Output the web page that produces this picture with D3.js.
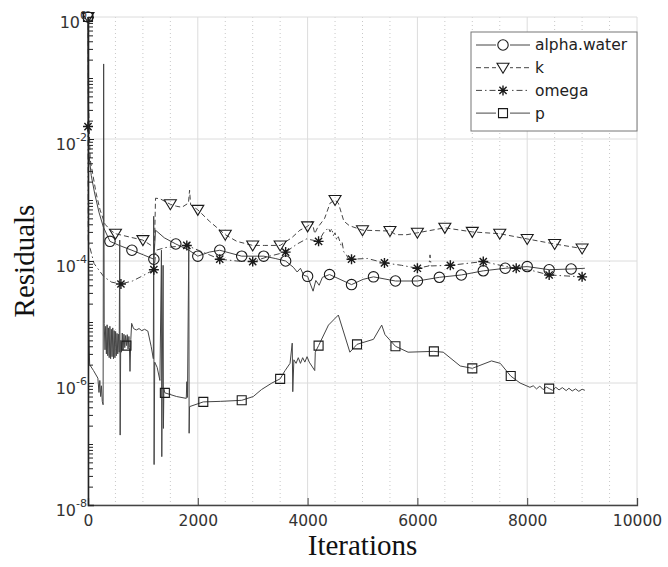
<!DOCTYPE html>
<html>
<head>
<meta charset="utf-8">
<script src="https://cdn.jsdelivr.net/npm/d3@7"></script>
<style>
  body { margin: 0; background: #fff; }
</style>
</head>
<body>
<script>
// residual histories: [iteration, residual]
const alphaWater = [
    [0, 1], [3, 3.2e-2], [10, 6.3e-3], [60, 2.5e-3], [120, 1.3e-3], [200, 6.3e-4], [280, 3.6e-4],
    [400, 2.1e-4], [570, 1.8e-4], [800, 1.5e-4], [1010, 1.26e-4], [1200, 1.07e-4], [1230, 3.2e-4],
    [1390, 2.4e-4], [1600, 1.9e-4], [1840, 1.5e-4], [2000, 1.2e-4], [2210, 1.4e-4], [2400, 1.5e-4],
    [2800, 1.2e-4], [3200, 1.2e-4], [3410, 1.1e-4], [3600, 1e-4], [3740, 7.9e-5], [3810, 6.6e-5],
    [3870, 7.6e-5], [3930, 5.8e-5], [4000, 5.6e-5], [4050, 4.2e-5], [4100, 3.2e-5], [4150, 4.8e-5],
    [4210, 4e-5], [4270, 5.4e-5], [4400, 6e-5], [4800, 4.1e-5], [5010, 5e-5], [5200, 5.5e-5],
    [5600, 4.7e-5], [6000, 4.7e-5], [6400, 5.4e-5], [6800, 5.9e-5], [7200, 6.9e-5], [7600, 7.6e-5],
    [8000, 8.1e-5], [8400, 7.2e-5], [8800, 7.4e-5], [9050, 7.6e-5]
];

const kRes = [
    [0, 1], [5, 5e-2], [40, 4.6e-3], [150, 1.26e-3], [220, 6.9e-4], [310, 4e-4], [410, 3.2e-4],
    [500, 2.8e-4], [1000, 2.2e-4], [1210, 1.66e-4], [1230, 1.07e-3], [1310, 1.05e-3], [1500, 8.5e-4],
    [1610, 7.9e-4], [1710, 7.6e-4], [1830, 8.9e-4], [1850, 1.45e-3], [1870, 8.3e-4], [2000, 6.9e-4],
    [2210, 4.5e-4], [2500, 2.7e-4], [2710, 2.1e-4], [3000, 1.8e-4], [3210, 1.8e-4], [3500, 1.8e-4],
    [3710, 2.4e-4], [3860, 3.2e-4], [4000, 3.7e-4], [4080, 4.5e-4], [4130, 2.8e-4], [4180, 3.5e-4],
    [4310, 5e-4], [4410, 8.9e-4], [4500, 1e-3], [4560, 8.9e-4], [4660, 4.5e-4], [4760, 3.8e-4],
    [5000, 3.2e-4], [5500, 3.1e-4], [5610, 2.7e-4], [5810, 2.7e-4], [6000, 2.9e-4], [6500, 3.5e-4],
    [7000, 3e-4], [7500, 2.8e-4], [8000, 2.3e-4], [8500, 1.9e-4], [9000, 1.6e-4], [9050, 1.6e-4]
];

const omegaRes = [
    [0, 1.6e-2], [5, 2e-4], [40, 1.6e-4], [110, 9.1e-5], [290, 5.5e-5], [430, 4.5e-5], [600, 4.2e-5],
    [810, 4.7e-5], [1010, 5.8e-5], [1200, 7.2e-5], [1240, 1.5e-4], [1410, 1.66e-4], [1800, 1.8e-4],
    [2090, 1.4e-4], [2400, 1.07e-4], [2710, 1e-4], [3000, 9.8e-5], [3310, 1.2e-4], [3600, 1.4e-4],
    [3810, 1.9e-4], [3980, 2.3e-4], [4200, 2.1e-4], [4290, 2.9e-4], [4380, 3.5e-4], [4410, 3e-4],
    [4440, 3.4e-4], [4470, 2.6e-4], [4500, 2.9e-4], [4530, 2.2e-4], [4560, 2.5e-4], [4610, 1.8e-4],
    [4630, 2e-4], [4660, 1.4e-4], [4700, 1.3e-4], [4740, 1.1e-4], [4800, 1.07e-4], [5090, 1.1e-4],
    [5400, 9.3e-5], [5710, 8.5e-5], [6000, 7.6e-5], [6210, 8.3e-5], [6230, 1.26e-4], [6250, 8.3e-5],
    [6600, 8.5e-5], [7200, 9.8e-5], [7510, 8.5e-5], [7800, 7.6e-5], [8110, 6.9e-5], [8400, 5.9e-5],
    [9000, 5.5e-5], [9050, 5.5e-5]
];

const pRes = [
    [0, 1], [8, 3.2e-4], [15, 6.3e-6], [30, 2e-6], [100, 1.6e-6], [180, 1.2e-6], [200, 7e-7],
    [215, 1.1e-6], [230, 6e-7], [245, 9e-7], [260, 5e-7], [275, 4.4e-7], [285, 1.7e-1],
    [295, 9.5e-6], [310, 3.5e-6], [322, 8.5e-6], [335, 3e-6],
    [348, 9e-6], [360, 2.8e-6], [373, 8e-6], [386, 2.6e-6], [399, 8.5e-6], [412, 2.5e-6],
    [425, 7.6e-6], [438, 2.7e-6], [451, 8e-6], [464, 2.5e-6], [477, 7.2e-6], [490, 2.6e-6],
    [503, 7e-6], [516, 2.8e-6], [529, 6.5e-6], [542, 3e-6], [555, 6.3e-6], [568, 3.2e-6],
    [578, 2.2e-4], [586, 1.4e-7], [596, 5e-6], [610, 3.2e-6], [624, 6.6e-6], [640, 3.5e-6],
    [655, 6.3e-6], [670, 3.8e-6], [685, 6e-6], [700, 4.1e-6], [715, 6.2e-6], [730, 3.6e-6],
    [745, 5.8e-6], [755, 3.8e-6], [765, 1.55e-6], [780, 5.2e-6],
    [795, 9.5e-6], [830, 7.8e-6], [880, 7.4e-6], [930, 7.8e-6], [980, 7.2e-6], [1030, 7.6e-6],
    [1090, 7.1e-6], [1150, 4e-6], [1190, 2.5e-6], [1197, 5.4e-4], [1204, 4.6e-8], [1215, 2.2e-6],
    [1260, 1.8e-6], [1310, 1.1e-6], [1338, 1.5e-4], [1344, 6.2e-8], [1352, 1e-6], [1368, 8.5e-5],
    [1374, 1.8e-7], [1382, 8e-7], [1400, 6.9e-7], [1615, 6e-7], [1790, 5.6e-7], [1800, 1.05e-6],
    [1812, 5.8e-7], [1836, 2e-4], [1842, 1.5e-7], [1850, 4.1e-7], [2100, 4.9e-7], [2410, 5e-7],
    [2800, 5.2e-7], [3010, 6e-7], [3160, 7.8e-7], [3350, 1e-6], [3500, 1.17e-6], [3590, 1.6e-6],
    [3680, 2.1e-6], [3720, 4.5e-6], [3730, 7.2e-7], [3750, 2.4e-6], [3790, 2.1e-6], [3830, 2.6e-6],
    [3870, 2.1e-6], [3910, 2.6e-6], [3950, 2.2e-6], [3990, 2.7e-6], [4030, 2.2e-6], [4130, 1.6e-6],
    [4140, 3.2e-6], [4200, 4.1e-6], [4380, 8.9e-6], [4560, 1.3e-5], [4770, 3.2e-6], [4900, 4.3e-6],
    [5200, 5.2e-6], [5350, 8.9e-6], [5410, 6.2e-6], [5600, 4e-6], [5830, 3.2e-6], [6300, 3.3e-6],
    [6470, 3.2e-6], [6780, 1.9e-6], [7000, 1.74e-6], [7350, 2.3e-6], [7510, 2.1e-6], [7700, 1.3e-6],
    [7870, 1e-6], [8050, 8.5e-7], [8110, 9e-7], [8170, 8e-7], [8230, 8.9e-7], [8290, 7.8e-7],
    [8350, 8.6e-7], [8400, 8.1e-7], [8460, 7.6e-7], [8520, 8.5e-7], [8580, 7.7e-7], [8640, 8.4e-7],
    [8710, 7.5e-7], [8760, 8.2e-7], [8820, 7.4e-7], [8880, 8e-7], [8940, 7.3e-7], [9000, 7.9e-7],
    [9050, 7.6e-7]
];

const seriesNames = ["alpha.water", "k", "omega", "p"];
const xTicks = [0, 2000, 4000, 6000, 8000, 10000];
const yTickExps = [0, -2, -4, -6, -8];

const width = 668;
const height = 567;
const margin = { top: 17, right: 31, bottom: 62, left: 88 };
const sans = "'DejaVu Sans', sans-serif";
const serif = "'Liberation Serif', 'Times New Roman', serif";

const xScale = d3.scaleLinear()
    .domain([0, 10000])
    .range([margin.left, width - margin.right]);

const yScale = d3.scaleLog()
    .domain([1e-8, 1])
    .range([height - margin.bottom, margin.top]);

const svg = d3.select("body")
    .append("svg")
    .attr("width", width)
    .attr("height", height);

// grid
const grid = svg.append("g");
grid.selectAll(".minorx")
    .data(d3.range(500, 10000, 500).filter(v => v % 2000 !== 0))
    .enter()
    .append("line")
    .attr("x1", d => xScale(d))
    .attr("x2", d => xScale(d))
    .attr("y1", margin.top)
    .attr("y2", height - margin.bottom)
    .attr("stroke", "#c8c8c8")
    .attr("stroke-dasharray", "1,3");

grid.selectAll(".majorx")
    .data(xTicks)
    .enter()
    .append("line")
    .attr("x1", d => xScale(d))
    .attr("x2", d => xScale(d))
    .attr("y1", margin.top)
    .attr("y2", height - margin.bottom)
    .attr("stroke", "#dcdcdc");

grid.selectAll(".majory")
    .data(yTickExps)
    .enter()
    .append("line")
    .attr("x1", margin.left)
    .attr("x2", width - margin.right)
    .attr("y1", d => yScale(Math.pow(10, d)))
    .attr("y2", d => yScale(Math.pow(10, d)))
    .attr("stroke", "#dcdcdc");

// series
const line = d3.line()
    .x(d => xScale(d[0]))
    .y(d => yScale(d[1]));

const series = [
    { data: alphaWater, step: 400, dash: null, marker: "circle" },
    { data: kRes, step: 500, dash: "5,3", marker: "tri" },
    { data: omegaRes, step: 600, dash: "6,3,1.5,3", marker: "star" },
    { data: pRes, step: 700, dash: null, marker: "square" }
];

const markerPath = {
    circle: d3.symbol().type(d3.symbolCircle).size(85)(),
    tri: "M-6,-4.5L6,-4.5L0,5.5Z",
    star: "M-5,0L5,0M0,-5L0,5M-3.6,-3.6L3.6,3.6M-3.6,3.6L3.6,-3.6",
    square: "M-4.5,-4.5H4.5V4.5H-4.5Z"
};

function drawMarker(g, type) {
    g.append("path")
        .attr("d", markerPath[type])
        .attr("fill", "none")
        .attr("stroke", "#1a1a1a")
        .attr("stroke-width", type === "star" ? 1.4 : 1.1);
}

const plot = svg.append("g");
series.forEach(s => {
    plot.append("path")
        .datum(s.data)
        .attr("d", line)
        .attr("fill", "none")
        .attr("stroke", "#454545")
        .attr("stroke-width", 1)
        .attr("stroke-dasharray", s.dash);
});
series.forEach(s => {
    plot.selectAll(null)
        .data(s.data.filter(d => d[0] % s.step === 0))
        .enter()
        .append("g")
        .attr("transform", d => `translate(${xScale(d[0])},${yScale(d[1])})`)
        .each(function () { drawMarker(d3.select(this), s.marker); });
});

// axes
const xAxis = d3.axisBottom(xScale)
    .tickValues(xTicks)
    .tickSize(-7)
    .tickPadding(10)
    .tickFormat(d => d);

const xAxisGroup = svg.append("g")
    .attr("transform", `translate(0, ${height - margin.bottom})`)
    .call(xAxis);
xAxisGroup.select(".domain").attr("stroke", "#444").attr("stroke-width", 1.3);
xAxisGroup.selectAll(".tick line").attr("stroke", "#444");
xAxisGroup.selectAll("text")
    .style("font-family", sans)
    .style("font-size", "15.5px")
    .attr("fill", "#333");

const minorVals = [];
for (let e = -8; e < 0; e++) {
    for (let m = 1; m < 10; m++) minorVals.push(m * Math.pow(10, e));
}
const yMinor = d3.axisLeft(yScale)
    .tickValues(minorVals)
    .tickSize(-5)
    .tickFormat("");
const yMinorGroup = svg.append("g")
    .attr("transform", `translate(${margin.left}, 0)`)
    .call(yMinor);
yMinorGroup.selectAll(".tick line").attr("stroke", "#222");
yMinorGroup.select(".domain").remove();

const yAxis = d3.axisLeft(yScale)
    .tickValues(yTickExps.map(e => Math.pow(10, e)))
    .tickSize(-6)
    .tickPadding(1)
    .tickFormat("");
const yAxisGroup = svg.append("g")
    .attr("transform", `translate(${margin.left}, 0)`)
    .call(yAxis);
yAxisGroup.select(".domain").attr("stroke", "#222").attr("stroke-width", 1.6);
yAxisGroup.selectAll(".tick line").attr("stroke", "#222");
yAxisGroup.selectAll(".tick text")
    .attr("dy", null)
    .style("font-family", sans)
    .attr("fill", "#333")
    .each(function (d) {
        const t = d3.select(this);
        t.append("tspan").style("font-size", "16px").attr("dy", 10.5).text("10");
        t.append("tspan").style("font-size", "11px").attr("dy", -9)
            .text(Math.round(Math.log10(d)));
    });

// axis titles
svg.append("text")
    .attr("x", (margin.left + width - margin.right) / 2)
    .attr("y", 555)
    .attr("text-anchor", "middle")
    .style("font-family", serif)
    .style("font-size", "29px")
    .attr("fill", "#111")
    .text("Iterations");

svg.append("text")
    .attr("transform", `translate(34, ${(margin.top + height - margin.bottom) / 2}) rotate(-90)`)
    .attr("text-anchor", "middle")
    .style("font-family", serif)
    .style("font-size", "29px")
    .attr("fill", "#111")
    .text("Residuals");

// legend
const legend = svg.append("g");
legend.append("rect")
    .attr("x", 471)
    .attr("y", 32)
    .attr("width", 166)
    .attr("height", 99)
    .attr("fill", "#fff")
    .attr("stroke", "#777");

series.forEach((s, i) => {
    const ly = 45 + i * 22.7;
    legend.append("line")
        .attr("x1", 476).attr("x2", 530)
        .attr("y1", ly).attr("y2", ly)
        .attr("stroke", "#454545")
        .attr("stroke-dasharray", s.dash);
    const mg = legend.append("g").attr("transform", `translate(503,${ly})`);
    mg.append("rect").attr("x", -7).attr("y", -7).attr("width", 14).attr("height", 14).attr("fill", "#fff");
    drawMarker(mg, s.marker);
    legend.append("text")
        .attr("x", 535)
        .attr("y", ly)
        .attr("dy", "0.35em")
        .style("font-family", sans)
        .style("font-size", "15.5px")
        .attr("fill", "#222")
        .text(seriesNames[i]);
});
</script>
</body>
</html>
